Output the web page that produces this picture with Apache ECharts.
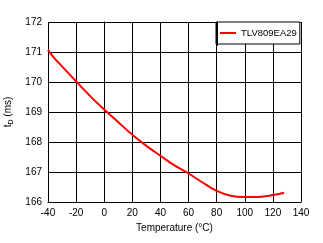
<!DOCTYPE html>
<html><head><meta charset="utf-8">
<script src="https://cdn.jsdelivr.net/npm/echarts@6/dist/echarts.min.js"></script>
<style>html,body{margin:0;padding:0;background:#fff}#c{width:323px;height:243px}</style>
</head><body><div id="c"></div>
<script>
var temperatures = [-40, -36, -30, -20, -10, 0, 10, 20, 30, 40, 50, 60, 70, 80, 90, 100, 110, 120, 128];
var tdValues = [171.07, 170.82, 170.52, 170.02, 169.53, 169.08, 168.66, 168.24, 167.87, 167.54, 167.22, 166.95, 166.65, 166.37, 166.21, 166.17, 166.17, 166.23, 166.31];
var seriesName = 'TLV809EA29';
var xTicks = {min: -40, max: 140, interval: 20};
var yTicks = {min: 166, max: 172, interval: 1};

var data = temperatures.map(function (t, i) { return [t, tdValues[i]]; });
var font = 'Arial, "Liberation Sans", sans-serif';
var fs = 10;
var chart = echarts.init(document.getElementById('c'), null, {renderer: 'canvas'});
chart.setOption({
  animation: false,
  backgroundColor: '#fff',
  grid: {left: 48, right: 22, top: 22, bottom: 41, containLabel: false, outerBoundsMode: 'none'},
  legend: {
    show: true,
    left: 216, top: 22,
    orient: 'vertical',
    backgroundColor: '#fff',
    borderColor: '#000', borderWidth: 1,
    padding: [6, 3, 6, 4],
    itemWidth: 16, itemHeight: 2,
    itemGap: 0,
    icon: 'rect',
    textStyle: {fontFamily: font, fontSize: 9.5, color: '#000', padding: [0, 0, 0, 0]},
    data: [{name: seriesName, icon: 'rect'}]
  },
  graphic: [{
    type: 'rect', left: 216, top: 22, z: 100,
    shape: {width: 2, height: 24}, style: {fill: '#000'}
  }],
  xAxis: {
    type: 'value', min: xTicks.min, max: xTicks.max, interval: xTicks.interval,
    name: 'Temperature (°C)', nameLocation: 'middle', nameGap: 20,
    nameTextStyle: {fontFamily: font, fontSize: fs, color: '#000'},
    axisLine: {show: true, lineStyle: {color: '#000', width: 1}},
    axisTick: {show: false},
    axisLabel: {fontFamily: font, fontSize: fs, color: '#000', margin: 6},
    splitLine: {show: true, lineStyle: {color: '#000', width: 1}}
  },
  yAxis: {
    type: 'value', min: yTicks.min, max: yTicks.max, interval: yTicks.interval,
    name: '{a|t}{s|D}{a| (ms)}', nameLocation: 'middle', nameGap: 28, nameRotate: 90,
    nameTextStyle: {
      fontFamily: font, fontSize: fs, color: '#000',
      rich: {
        a: {fontFamily: font, fontSize: fs, color: '#000'},
        s: {fontFamily: font, fontSize: 7, color: '#000', verticalAlign: 'bottom', padding: [5, 0, 0, 0]}
      }
    },
    axisLine: {show: true, lineStyle: {color: '#000', width: 1}},
    axisTick: {show: false},
    axisLabel: {fontFamily: font, fontSize: fs, color: '#000', margin: 6},
    splitLine: {show: true, lineStyle: {color: '#000', width: 1}}
  },
  series: [{
    name: seriesName, type: 'line', data: data, smooth: 0.4,
    showSymbol: false, symbol: 'none',
    lineStyle: {color: '#ff0000', width: 2},
    itemStyle: {color: '#ff0000'}
  }]
});
</script></body></html>
